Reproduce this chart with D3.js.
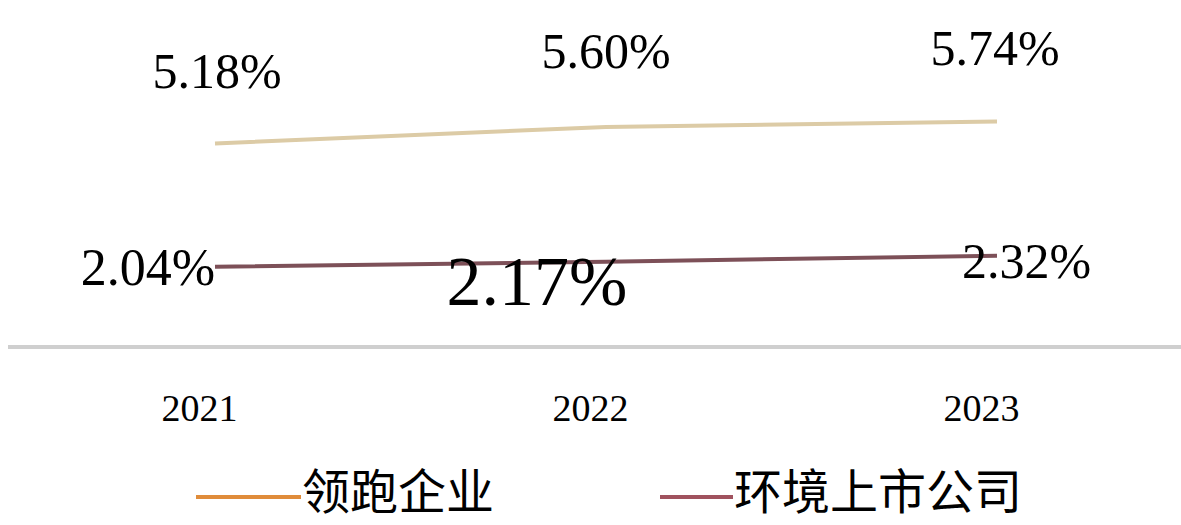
<!DOCTYPE html>
<html><head><meta charset="utf-8">
<script src="https://cdn.jsdelivr.net/npm/d3@7"></script>
<style>html,body{margin:0;padding:0;background:#fff;overflow:hidden}</style>
</head><body>
<svg id="chart" width="1181" height="525"></svg>
<script>
const years = ["2021", "2022", "2023"];
const leaderValues = [5.18, 5.60, 5.74];
const listedValues = [2.04, 2.17, 2.32];
const leaderLabels = ["5.18%", "5.60%", "5.74%"];
const listedLabels = ["2.04%", "2.17%", "2.32%"];
const seriesNames = ["领跑企业", "环境上市公司"];

const svg = d3.select("#chart");
const serif = "'Liberation Serif','Times New Roman',serif";
const cjk = "'Noto Sans CJK SC','Noto Sans',sans-serif";

const x = d3.scalePoint().domain(years).range([215, 997]);
const y = d3.scaleLinear().domain([0, 6]).range([347, 111.2]);

// baseline
svg.append("line").attr("x1", 8).attr("x2", 1181).attr("y1", y(0)).attr("y2", y(0))
  .attr("stroke", "#cfcfcf").attr("stroke-width", 4);

// x axis labels
const xAxis = d3.axisBottom(x).tickSize(0).tickPadding(0);
const gx = svg.append("g").attr("transform", `translate(-16,${y(0)})`).call(xAxis);
gx.select(".domain").remove();
gx.selectAll("text").attr("font-family", serif).attr("font-size", 38).attr("fill", "#000")
  .attr("dy", null).attr("y", 74);

const series = [
  {vals: leaderValues, labels: leaderLabels, color: "#dccba6", legend: "#e08c3a"},
  {vals: listedValues, labels: listedLabels, color: "#7d5058", legend: "#a0525e"}
];
const line = d3.line().x((d, i) => x(years[i])).y(d => y(d));
series.forEach(s => {
  svg.append("path").datum(s.vals).attr("d", line).attr("fill", "none")
    .attr("stroke", s.color).attr("stroke-width", 4).attr("stroke-linecap", "butt");
});

// label layout (style only)
const topLayout = [{dx: 2, dy: -55, a: "middle", fs: 50}, {dx: 0, dy: -59, a: "middle", fs: 50}, {dx: -2, dy: -56, a: "middle", fs: 50}];
const botLayout = [{dx: 0, dy: 18, a: "end", fs: 52}, {dx: -69, dy: 43, a: "middle", fs: 70}, {dx: -35, dy: 22, a: "start", fs: 50}];
[topLayout, botLayout].forEach((lay, k) => {
  const s = series[k];
  svg.append("g").selectAll("text").data(s.vals).join("text")
    .attr("x", (d, i) => x(years[i]) + lay[i].dx)
    .attr("y", (d, i) => y(d) + lay[i].dy)
    .attr("text-anchor", (d, i) => lay[i].a)
    .attr("font-family", serif).attr("font-size", (d, i) => lay[i].fs)
    .attr("fill", "#000").text((d, i) => s.labels[i]);
});

// legend
const legendPos = [{x1: 196, x2: 301}, {x1: 660, x2: 733}];
seriesNames.forEach((n, i) => {
  svg.append("line").attr("x1", legendPos[i].x1).attr("x2", legendPos[i].x2)
    .attr("y1", 497).attr("y2", 497).attr("stroke", series[i].legend).attr("stroke-width", 4);
  svg.append("text").attr("x", legendPos[i].x2 + 1).attr("y", 509)
    .attr("font-family", cjk).attr("font-size", 48).attr("fill", "#000").text(n);
});
</script>
</body></html>
